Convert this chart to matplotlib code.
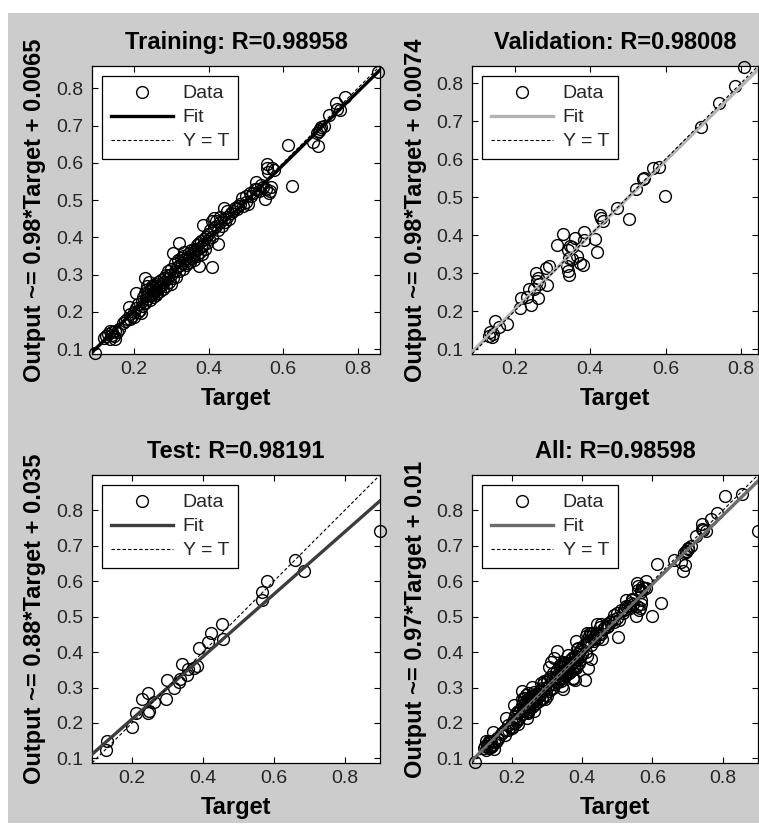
import matplotlib
matplotlib.use("Agg")
import matplotlib.pyplot as plt
from matplotlib.patches import Rectangle
import numpy as np

plt.rcParams['font.family'] = ['Liberation Sans', 'DejaVu Sans']

# ---------------- data ----------------
train_target = [0.095, 0.12, 0.125, 0.13, 0.135, 0.14, 0.145, 0.15, 0.15, 0.155, 0.16, 0.135, 0.142,
                0.17, 0.175, 0.18, 0.185, 0.19, 0.19, 0.195, 0.2, 0.2, 0.205, 0.205, 0.21, 0.21, 0.215, 0.22, 0.22, 0.218,
                0.225, 0.228, 0.23, 0.23, 0.232, 0.235, 0.235, 0.238, 0.24, 0.24, 0.242, 0.245, 0.245, 0.248, 0.25, 0.25,
                0.252, 0.255, 0.255, 0.258, 0.26, 0.26, 0.262, 0.265, 0.265, 0.27, 0.27, 0.272, 0.275, 0.278, 0.28, 0.28,
                0.285, 0.285, 0.29, 0.29, 0.295, 0.295, 0.3, 0.3, 0.3, 0.305, 0.305, 0.31,
                0.31, 0.312, 0.315, 0.318, 0.32, 0.32, 0.322, 0.325, 0.328, 0.33, 0.33, 0.335, 0.335, 0.338, 0.34, 0.342,
                0.345, 0.345, 0.35, 0.35, 0.352, 0.355, 0.358, 0.36, 0.36, 0.362, 0.365, 0.368, 0.37, 0.372, 0.375, 0.375,
                0.378, 0.38, 0.38, 0.382, 0.384, 0.385, 0.388, 0.39, 0.392, 0.395, 0.398, 0.4, 0.405, 0.408, 0.41, 0.41,
                0.415, 0.415, 0.42, 0.42, 0.424, 0.425, 0.43, 0.43, 0.435, 0.44, 0.442, 0.445, 0.45, 0.45, 0.455, 0.46,
                0.465, 0.47, 0.475, 0.48, 0.485, 0.49, 0.492, 0.5, 0.5, 0.505,
                0.51, 0.515, 0.52, 0.525, 0.526, 0.53, 0.535, 0.54, 0.545, 0.552, 0.555, 0.557, 0.558, 0.56, 0.562, 0.565,
                0.568, 0.57, 0.575, 0.613, 0.624,
                0.68, 0.69, 0.693, 0.695, 0.7, 0.702, 0.71, 0.723, 0.741, 0.745, 0.752, 0.765, 0.855]
train_output = [0.090, 0.13, 0.135, 0.14, 0.128, 0.145, 0.135, 0.127, 0.15, 0.145, 0.155, 0.15, 0.138,
                0.17, 0.175, 0.18, 0.214, 0.18, 0.195, 0.19, 0.2, 0.185, 0.252, 0.21, 0.2, 0.22, 0.205, 0.215, 0.23, 0.198,
                0.24, 0.225, 0.29, 0.25, 0.26, 0.235, 0.27, 0.245, 0.255, 0.28, 0.232, 0.26, 0.245, 0.27, 0.25, 0.24,
                0.265, 0.255, 0.275, 0.245, 0.26, 0.27, 0.25, 0.28, 0.265, 0.27, 0.255, 0.285, 0.275, 0.262, 0.28, 0.29,
                0.27, 0.3, 0.29, 0.31, 0.28, 0.3, 0.3, 0.275, 0.315, 0.359, 0.29, 0.31,
                0.33, 0.295, 0.32, 0.34, 0.384, 0.31, 0.325, 0.345, 0.33, 0.35, 0.315, 0.34, 0.36, 0.325, 0.345, 0.33,
                0.355, 0.34, 0.35, 0.335, 0.365, 0.345, 0.36, 0.355, 0.37, 0.34, 0.365, 0.38, 0.35, 0.37, 0.323, 0.385,
                0.36, 0.375, 0.39, 0.355, 0.432, 0.38, 0.395, 0.37, 0.4, 0.385, 0.41, 0.395, 0.42, 0.321, 0.445, 0.4,
                0.453, 0.425, 0.43, 0.445, 0.381, 0.42, 0.44, 0.455, 0.43, 0.45, 0.478, 0.44, 0.47, 0.455, 0.45, 0.465,
                0.47, 0.48, 0.475, 0.485, 0.49, 0.505, 0.485, 0.51, 0.495, 0.49,
                0.52, 0.51, 0.52, 0.53, 0.548, 0.53, 0.525, 0.54, 0.535, 0.502, 0.53, 0.596, 0.586, 0.575, 0.52, 0.525,
                0.535, 0.585, 0.58, 0.649, 0.539,
                0.655, 0.68, 0.646, 0.685, 0.69, 0.695, 0.7, 0.729, 0.761, 0.745, 0.743, 0.776, 0.845]

val_target = [0.807, 0.784, 0.741, 0.694, 0.582, 0.567, 0.543, 0.541, 0.521, 0.598, 0.503, 0.472, 0.426, 0.428,
              0.433, 0.413, 0.417, 0.385, 0.384, 0.380, 0.373, 0.365, 0.360, 0.351, 0.347, 0.342, 0.340, 0.345,
              0.342, 0.344, 0.351, 0.328, 0.312, 0.291, 0.284, 0.285, 0.257, 0.259, 0.262, 0.265, 0.252, 0.239,
              0.262, 0.243, 0.233, 0.217, 0.213, 0.147, 0.180, 0.158, 0.136, 0.131, 0.143, 0.140]
val_output = [0.842, 0.792, 0.748, 0.684, 0.580, 0.576, 0.551, 0.548, 0.522, 0.503, 0.442, 0.471, 0.453, 0.445,
              0.436, 0.390, 0.355, 0.408, 0.388, 0.322, 0.327, 0.344, 0.392, 0.369, 0.372, 0.360, 0.318, 0.296,
              0.305, 0.340, 0.336, 0.403, 0.373, 0.318, 0.314, 0.268, 0.301, 0.279, 0.288, 0.272, 0.257, 0.257,
              0.235, 0.215, 0.237, 0.235, 0.209, 0.174, 0.165, 0.157, 0.145, 0.135, 0.139, 0.131]

test_target = [0.900, 0.686, 0.661, 0.582, 0.568, 0.568, 0.455, 0.456, 0.423, 0.414, 0.388, 0.382, 0.376, 0.359,
               0.341, 0.354, 0.335, 0.332, 0.318, 0.300, 0.295, 0.261, 0.246, 0.228, 0.247, 0.245, 0.211, 0.200,
               0.128, 0.126]
test_output = [0.741, 0.628, 0.661, 0.600, 0.570, 0.548, 0.478, 0.436, 0.455, 0.429, 0.411, 0.361, 0.356, 0.353,
               0.367, 0.335, 0.323, 0.316, 0.300, 0.321, 0.269, 0.259, 0.284, 0.267, 0.233, 0.229, 0.228, 0.190,
               0.150, 0.123]

all_target = train_target + val_target + test_target
all_output = train_output + val_output + test_output

titles = ["Training: R=0.98958", "Validation: R=0.98008", "Test: R=0.98191", "All: R=0.98598"]
ylabels = ["Output ~= 0.98*Target + 0.0065", "Output ~= 0.98*Target + 0.0074",
           "Output ~= 0.88*Target + 0.035", "Output ~= 0.97*Target + 0.01"]
fit_slope = [0.98, 0.98, 0.88, 0.97]
fit_intercept = [0.0065, 0.0074, 0.035, 0.01]
axis_lims = [(0.087, 0.86), (0.087, 0.845), (0.087, 0.9), (0.087, 0.9)]
x_ticks = [0.2, 0.4, 0.6, 0.8]
y_ticks = [0.1, 0.2, 0.3, 0.4, 0.5, 0.6, 0.7, 0.8]
legend_labels = ["Data", "Fit", "Y = T"]

fit_colors = ["#000000", "#b3b3b3", "#3d3d3d", "#6b6b6b"]
datasets = [(train_target, train_output), (val_target, val_output),
            (test_target, test_output), (all_target, all_output)]

# ---------------- figure ----------------
W, H = 759, 825
fig = plt.figure(figsize=(W / 100, H / 100), dpi=100, facecolor="white")
fig.patches.append(Rectangle((8 / W, 2 / H), 1 - 8 / W, (823 - 13) / H, transform=fig.transFigure,
                             facecolor="#cccccc", edgecolor="none", zorder=-10))

# axes boxes in pixels: (left, top, right, bottom)
boxes = [(92, 66, 380, 354), (472, 66, 758, 354), (92, 475, 380, 763), (472, 475, 758, 763)]

for i, (l, t, r, b) in enumerate(boxes):
    ax = fig.add_axes([l / W, (H - b) / H, (r - l) / W, (b - t) / H])
    ax.set_facecolor("white")
    xs, ys = datasets[i]
    lo, hi = axis_lims[i]
    ax.plot(xs, ys, linestyle="none", marker="o", markersize=8.5, markerfacecolor="none",
            markeredgecolor="black", markeredgewidth=1.0, clip_on=False, label=legend_labels[0], zorder=3)
    lim = np.array([lo, hi])
    ax.plot(lim, fit_slope[i] * lim + fit_intercept[i], color=fit_colors[i], linewidth=2.4,
            label=legend_labels[1], zorder=4)
    ax.plot(lim, lim, color="black", linewidth=0.8, linestyle=(0, (3, 2)), label=legend_labels[2], zorder=5)
    ax.set_xlim(lo, hi)
    ax.set_ylim(lo, hi)
    ax.set_xticks(x_ticks)
    ax.set_yticks(y_ticks)
    ax.set_xticklabels([f"{v:g}" for v in x_ticks])
    ax.set_yticklabels([f"{v:g}" for v in y_ticks])
    ax.tick_params(direction="in", length=4, width=0.8, top=True, right=True,
                   labelsize=14, labelcolor="#262626", pad=5)
    ax.tick_params(axis="y", pad=6)
    for s in ax.spines.values():
        s.set_linewidth(0.9)
        s.set_color("black")
    ax.set_title(titles[i], fontsize=17, fontweight="bold", pad=12.5)
    ax.set_xlabel("Target", fontsize=17, fontweight="bold")
    ax.set_ylabel(ylabels[i], fontsize=17, fontweight="bold")
    ax.xaxis.set_label_coords(0.5, -0.115)
    ax.yaxis.set_label_coords(-0.158, 0.5)
    leg = ax.legend(loc="upper left", bbox_to_anchor=(0.035, 0.965), borderaxespad=0, fontsize=14,
                    frameon=True, fancybox=False, edgecolor="black", framealpha=1, numpoints=1,
                    handlelength=3.2, handletextpad=0.5, labelspacing=0.33, borderpad=0.45)
    leg.get_frame().set_linewidth(0.9)
    for txt in leg.get_texts():
        txt.set_color("#262626")

fig.savefig("out.png", dpi=100, facecolor="white")
